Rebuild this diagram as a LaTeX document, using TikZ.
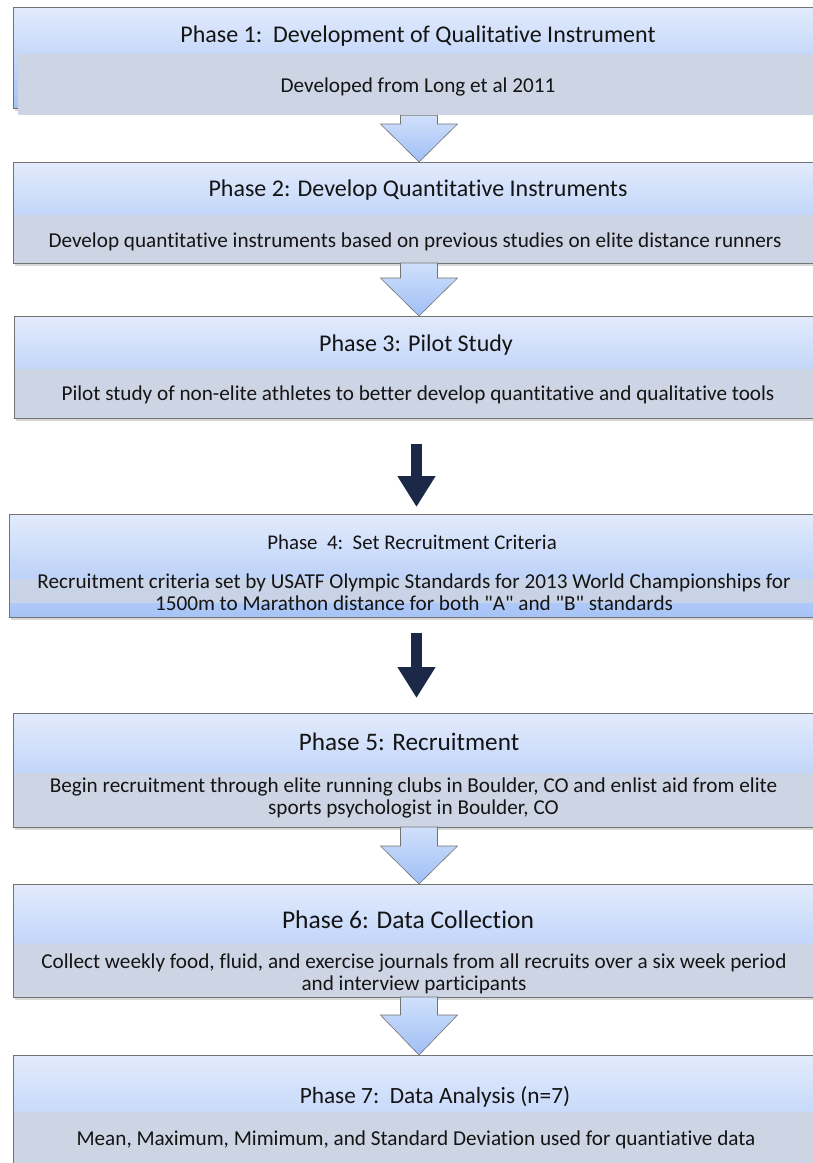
\documentclass[tikz,border=0pt]{standalone}
\usepackage{fontspec}
\setmainfont{Carlito}[Ligatures={TeXOff,NoCommon}]
\usetikzlibrary{arrows.meta,shadows,calc}
\definecolor{boxtop}{RGB}{226,235,252}
\definecolor{boxbot}{RGB}{166,195,247}
\definecolor{stripc}{RGB}{205,213,229}
\definecolor{bordc}{RGB}{115,115,115}
\definecolor{arrtop}{RGB}{208,224,251}
\definecolor{arrbot}{RGB}{160,191,245}
\definecolor{navy}{RGB}{28,40,72}
\definecolor{txt}{RGB}{20,20,20}
\newcommand\blockarr[3]{%
  \shade[top color=arrtop, bottom color=arrbot, draw=bordc, line width=0.6pt]
    let \p1=(#1.south -| ax), \p2=(#2.north -| ax) in
    (\x1-18.5pt,\y1) -- (\x1+18.5pt,\y1) -- (\x1+18.5pt,\y2+#3) -- (\x1+38.5pt,\y2+#3)
    -- (\x2,\y2) -- (\x1-38.5pt,\y2+#3) -- (\x1-18.5pt,\y2+#3) -- cycle;}
\begin{document}
\begin{tikzpicture}[x=1pt,y=-1pt,
  phasebox/.style={draw=bordc, line width=0.7pt, top color=boxtop, bottom color=boxbot,
    inner sep=0pt, anchor=north west, minimum width=830pt,
    drop shadow={opacity=0.3, shadow xshift=1.5pt, shadow yshift=-3pt}},
  strip/.style={fill=stripc, inner sep=0pt, anchor=north west, minimum width=830pt},
  title/.style={anchor=base, text=txt, inner sep=0pt},
  desc/.style={text=txt, inner sep=0pt, align=center, font=\fontsize{21.2}{22}\selectfont},
  navyarrow/.style={draw=navy, line width=11pt, -{Triangle[width=36pt,length=31pt]}}]
\useasboundingbox (0,0) rectangle (813,1163);
\fill[white] (0,0) rectangle (813,1163);
\clip (0,0) rectangle (813,1163);
\coordinate (ax) at (419,0);
\coordinate (dx) at (416.5,0);
% boxes
\node[phasebox, minimum height=101pt] (b1) at (13,7) {};
\node[strip, minimum height=61pt] (s1) at (18,54) {};
\node[phasebox, minimum height=101pt] (b2) at (13,162) {};
\node[strip, minimum height=47.6pt] (s2) at (13.5,215) {};
\node[phasebox, minimum height=102pt] (b3) at (14,316) {};
\node[strip, minimum height=48.6pt] (s3) at (14.5,369) {};
\node[phasebox, minimum height=103pt] (b4) at (9,514) {};
\node[strip, fill opacity=0.85, minimum height=24pt] (s4) at (9.5,579) {};
\node[phasebox, minimum height=114pt] (b5) at (13,713) {};
\node[strip, minimum height=53.6pt] (s5) at (13.5,773) {};
\node[phasebox, minimum height=113pt] (b6) at (13,884) {};
\node[strip, minimum height=52.6pt] (s6) at (13.5,944) {};
\node[phasebox, minimum height=130pt] (b7) at (13,1055) {};
\node[strip, minimum height=80pt] (s7) at (13.5,1112) {};
% connectors
\blockarr{s1}{b2}{38pt}
\blockarr{s2}{b3}{38pt}
\draw[navyarrow, shorten <=25pt, shorten >=7pt] (b3.south -| dx) -- (b4.north -| dx);
\draw[navyarrow, shorten <=15pt, shorten >=15pt] (b4.south -| dx) -- (b5.north -| dx);
\blockarr{s5}{b6}{38pt}
\blockarr{s6}{b7}{40pt}
% texts
\node[title, font=\fontsize{24}{26}\selectfont] (t1) at (418,42) {Phase 1:\ \ Development of Qualitative Instrument};
\node[desc, anchor=base] (d1) at (418,92) {Developed from Long et al 2011};
\node[title, font=\fontsize{24}{26}\selectfont] (t2) at (418,196) {Phase 2: Develop Quantitative Instruments};
\node[desc, anchor=base] (d2) at (415,247) {Develop quantitative instruments based on previous studies on elite distance runners};
\node[title, font=\fontsize{24}{26}\selectfont] (t3) at (416,351) {Phase 3: Pilot Study};
\node[desc, anchor=base] (d3) at (418,400) {Pilot study of non-elite athletes to better develop quantitative and qualitative tools};
\node[title, font=\fontsize{20.9}{24}\selectfont] (t4) at (412,549) {Phase\ \ 4:\ \ Set Recruitment Criteria};
\node[desc] (d4) at (414,592.5) {Recruitment criteria set by USATF Olympic Standards for 2013 World Championships for\\1500m to Marathon distance for both "A" and "B" standards};
\node[title, font=\fontsize{25.2}{28}\selectfont] (t5) at (409,750) {Phase 5: Recruitment};
\node[desc] (d5) at (413.5,797.5) {Begin recruitment through elite running clubs in Boulder, CO and enlist aid from elite\\sports psychologist in Boulder, CO};
\node[title, font=\fontsize{25.5}{28}\selectfont] (t6) at (408,928) {Phase 6: Data Collection};
\node[desc] (d6) at (414,973.5) {Collect weekly food, fluid, and exercise journals from all recruits over a six week period\\and interview participants};
\node[title, font=\fontsize{23.3}{28}\selectfont] (t7) at (435,1103) {Phase 7:\ \ Data Analysis (n=7)};
\node[desc, anchor=base] (d7) at (416,1145) {Mean, Maximum, Mimimum, and Standard Deviation used for quantiative data};
\end{tikzpicture}
\end{document}
